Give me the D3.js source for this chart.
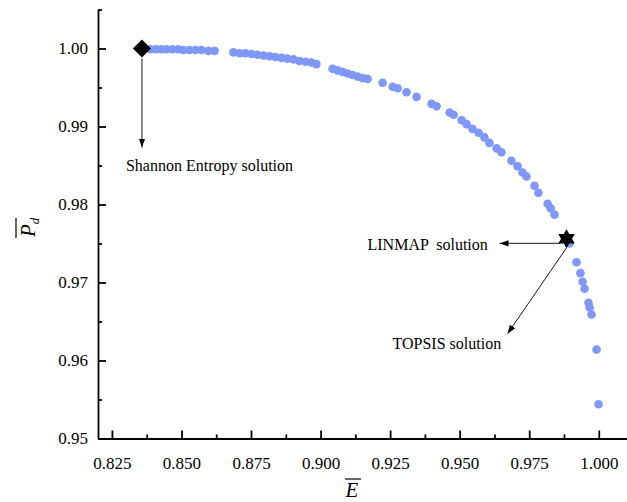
<!DOCTYPE html>
<html>
<head>
<meta charset="utf-8">
<script src="https://cdn.jsdelivr.net/npm/d3@7"></script>
<style>
  body { margin: 0; background: #fff; }
  svg { display: block; }
</style>
</head>
<body>
<div id="chart"></div>
<script>
// Pareto front points (E bar, Pd bar)
var eValues = [
  0.8389, 0.8410, 0.8428, 0.8446, 0.8468, 0.8489, 0.8507, 0.8529, 0.8550, 0.8572, 0.8597, 0.8619,
  0.8687, 0.8709, 0.8730, 0.8752, 0.8773, 0.8795, 0.8817, 0.8838, 0.8860, 0.8881, 0.8903, 0.8924, 0.8946, 0.8967, 0.8985,
  0.9043, 0.9061, 0.9079, 0.9097, 0.9115, 0.9133, 0.9151, 0.9169,
  0.9223, 0.9259, 0.9277, 0.9309, 0.9345,
  0.9399, 0.9417, 0.9464, 0.9478, 0.9507, 0.9525, 0.9546, 0.9568, 0.9589, 0.9607, 0.9633,
  0.9650, 0.9686, 0.9708, 0.9726, 0.9740, 0.9769, 0.9783, 0.9816, 0.9827, 0.9841,
  0.9895, 0.9920, 0.9934, 0.9942, 0.9949, 0.9963, 0.9967, 0.9974, 0.9992, 0.9999
];
var pdValues = [
  0.9999, 0.9999, 0.9999, 0.9999, 0.9999, 0.9999, 0.9998, 0.9998, 0.9998, 0.9998, 0.9997, 0.9997,
  0.9995, 0.9994, 0.9994, 0.9993, 0.9992, 0.9991, 0.9990, 0.9989, 0.9988, 0.9987, 0.9986, 0.9984, 0.9983, 0.9982, 0.9980,
  0.9974, 0.9972, 0.9970, 0.9968, 0.9966, 0.9964, 0.9962, 0.9961,
  0.9956, 0.9951, 0.9949, 0.9944, 0.9938,
  0.9929, 0.9926, 0.9918, 0.9915, 0.9908, 0.9903, 0.9897, 0.9892, 0.9886, 0.9879, 0.9872,
  0.9867, 0.9856, 0.9849, 0.9841, 0.9836, 0.9824, 0.9815, 0.9801, 0.9795, 0.9787,
  0.9750, 0.9726, 0.9712, 0.9701, 0.9692, 0.9674, 0.9668, 0.9659, 0.9614, 0.9544
];

// decision points
var shannonPoint = [0.8358, 1.0000];
var linmapPoint = [0.9884, 0.9756]; // LINMAP and TOPSIS give the same point

// tick labels
var xTicks = [0.825, 0.850, 0.875, 0.900, 0.925, 0.950, 0.975, 1.000];
var yTicks = [0.95, 0.96, 0.97, 0.98, 0.99, 1.00];
var xMinor = [0.8375, 0.8625, 0.8875, 0.9125, 0.9375, 0.9625, 0.9875];
var yMinor = [0.955, 0.965, 0.975, 0.985, 0.995, 1.005];

var serif = "Liberation Serif";
var width = 627, height = 502;
var margin = {left: 98, right: 0, top: 9.5, bottom: 63.5};

var svg = d3.select("#chart").append("svg")
  .attr("width", width)
  .attr("height", height);

var x = d3.scaleLinear().domain([0.82, 1.01]).range([margin.left, 626.6]);
var y = d3.scaleLinear().domain([0.95, 1.005]).range([height - margin.bottom, margin.top]);

// arrow head
svg.append("defs").append("marker")
  .attr("id", "head")
  .attr("viewBox", "0 0 10 10")
  .attr("refX", 10).attr("refY", 5)
  .attr("markerWidth", 9).attr("markerHeight", 9)
  .attr("markerUnits", "userSpaceOnUse")
  .attr("orient", "auto")
  .append("path")
  .attr("d", "M0,1.5 L10,5 L0,8.5 Z")
  .attr("fill", "#000");

function styleAxis(g) {
  g.attr("font-family", serif).attr("font-size", 17);
  g.selectAll("path, line").attr("stroke", "#000").attr("stroke-width", 1.8);
  g.selectAll("text")
    .attr("font-family", serif)
    .attr("font-size", 17)
    .attr("fill", "#000");
}

// axes, ticks pointing inward
svg.append("g")
  .attr("transform", "translate(0," + y(0.95) + ")")
  .call(d3.axisBottom(x).tickValues(xTicks).tickFormat(d3.format(".3f"))
    .tickSizeInner(-8).tickSizeOuter(0).tickPadding(18))
  .call(styleAxis);
svg.append("g")
  .attr("transform", "translate(0," + y(0.95) + ")")
  .call(d3.axisBottom(x).tickValues(xMinor).tickFormat("").tickSizeInner(-4).tickSizeOuter(0))
  .call(styleAxis)
  .select(".domain").remove();

svg.append("g")
  .attr("transform", "translate(" + x(0.82) + ",0)")
  .call(d3.axisLeft(y).tickValues(yTicks).tickFormat(d3.format(".2f"))
    .tickSizeInner(-8).tickSizeOuter(0).tickPadding(10))
  .call(styleAxis);
svg.append("g")
  .attr("transform", "translate(" + x(0.82) + ",0)")
  .call(d3.axisLeft(y).tickValues(yMinor).tickFormat("").tickSizeInner(-4).tickSizeOuter(0))
  .call(styleAxis)
  .select(".domain").remove();

// points
var pts = eValues.map(function(e, i) { return {e: e, pd: pdValues[i]}; });
svg.selectAll("circle.pt")
  .data(pts)
  .enter()
  .append("circle")
  .attr("class", "pt")
  .attr("cx", function(d) { return x(d.e); })
  .attr("cy", function(d) { return y(d.pd); })
  .attr("r", 4.3)
  .attr("fill", "#7f97f7");

// arrows
function arrow(x1, y1, x2, y2) {
  svg.append("line")
    .attr("x1", x1).attr("y1", y1)
    .attr("x2", x2).attr("y2", y2)
    .attr("stroke", "#000")
    .attr("stroke-width", 0.9)
    .attr("marker-end", "url(#head)");
}
var sx = x(shannonPoint[0]), sy = y(shannonPoint[1]);
var lx = x(linmapPoint[0]), ly = y(linmapPoint[1]);

arrow(sx, sy + 10, sx, sy + 99);
arrow(lx - 6, ly + 4.5, lx - 67, ly + 4.5);
arrow(lx, ly + 9, lx - 59, ly + 95);

// Shannon diamond
svg.append("path")
  .attr("d", "M0,-9 L9,0 L0,9 L-9,0 Z")
  .attr("transform", "translate(" + sx + "," + sy + ")")
  .attr("fill", "#000");

// LINMAP / TOPSIS six pointed star
var star = [];
for (var i = 0; i < 12; i++) {
  var a = -Math.PI / 2 + i * Math.PI / 6;
  var r = (i % 2 == 0) ? 9.5 : 5.5;
  star.push([r * Math.cos(a), r * Math.sin(a)]);
}
svg.append("path")
  .attr("d", d3.line()(star) + "Z")
  .attr("transform", "translate(" + lx + "," + ly + ")")
  .attr("fill", "#000");

// notes
function note(tx, ty, s) {
  svg.append("text")
    .attr("x", tx).attr("y", ty)
    .attr("xml:space", "preserve")
    .attr("font-family", serif)
    .attr("font-size", 16)
    .attr("fill", "#000")
    .text(s);
}
note(sx - 16, sy + 122, "Shannon Entropy solution");
note(lx - 199, ly + 11, "LINMAP  solution");
note(lx - 174, ly + 110, "TOPSIS solution");

// axis titles
svg.append("text")
  .attr("x", 352).attr("y", 497)
  .attr("text-anchor", "middle")
  .attr("font-family", serif)
  .attr("font-style", "italic")
  .attr("font-size", 21)
  .text("E");
svg.append("line")
  .attr("x1", 345).attr("x2", 361)
  .attr("y1", 479).attr("y2", 479)
  .attr("stroke", "#000").attr("stroke-width", 1.2);

var yt = svg.append("g").attr("transform", "translate(35,237) rotate(-90)");
var ytext = yt.append("text")
  .attr("font-family", serif)
  .attr("font-style", "italic")
  .attr("font-size", 21);
ytext.append("tspan").text("P");
ytext.append("tspan").attr("dy", 4).attr("font-size", 13).text("d");
yt.append("line")
  .attr("x1", -1).attr("x2", 19)
  .attr("y1", -19).attr("y2", -19)
  .attr("stroke", "#000").attr("stroke-width", 1.2);
</script>
</body>
</html>
